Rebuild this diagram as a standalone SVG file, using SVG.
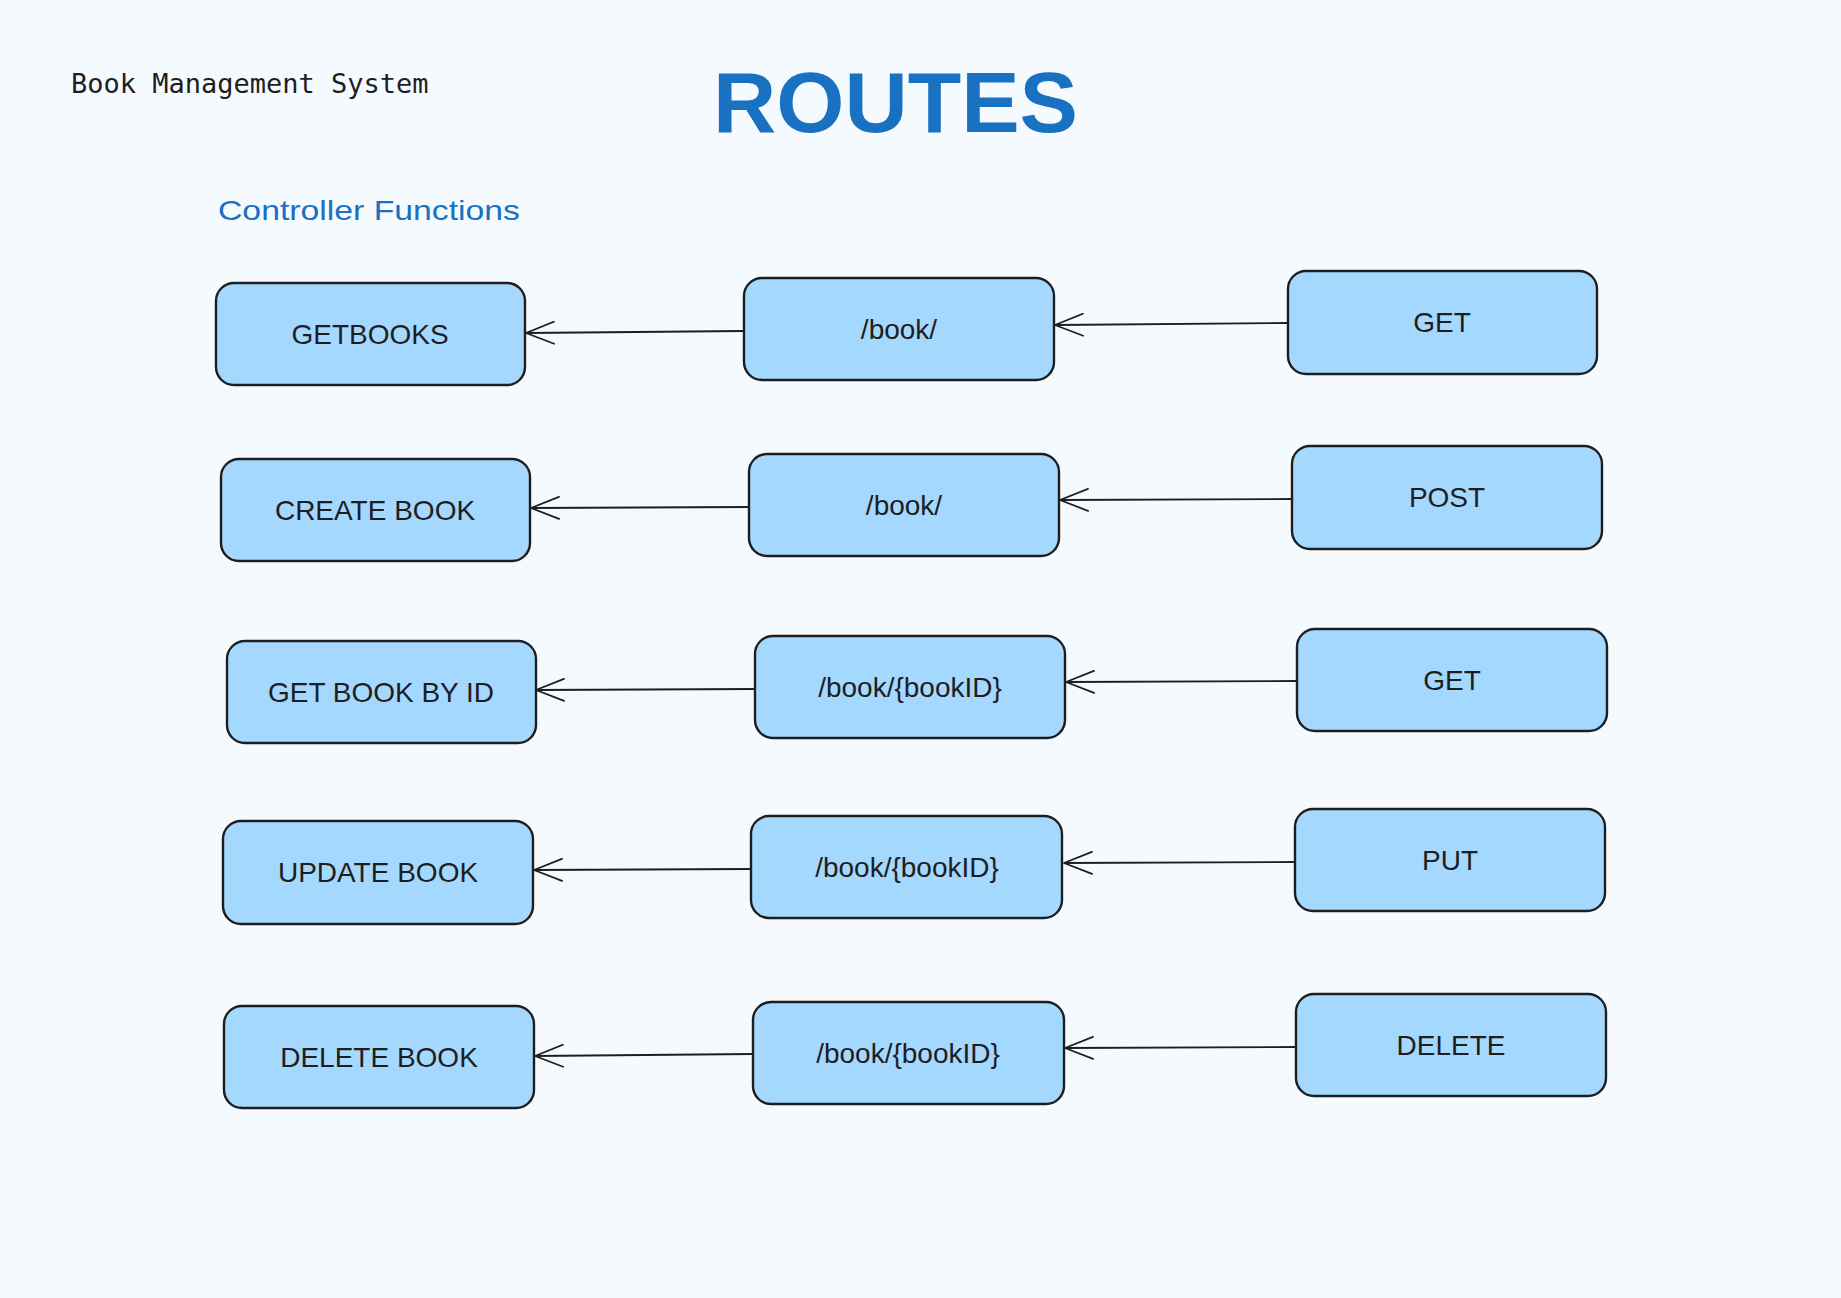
<svg xmlns="http://www.w3.org/2000/svg" width="1841" height="1298" viewBox="0 0 1841 1298">
<defs>
<style>
.box{fill:#a5d8ff;stroke:#1e1e1e;stroke-width:2.4}
.lbl{font-family:"Liberation Sans",Arial,sans-serif;font-size:28px;fill:#1e1e1e;text-anchor:middle}
.con{stroke:#1e1e1e;stroke-width:1.8;fill:none}
</style>
<marker id="ah" viewBox="0 0 30 24" refX="29" refY="12" markerWidth="30" markerHeight="24" markerUnits="userSpaceOnUse" orient="auto">
<path d="M1 1 L29 12 L1 23" fill="none" stroke="#1e1e1e" stroke-width="1.8" stroke-linecap="round" stroke-linejoin="round"/>
</marker>
</defs>
<rect width="1841" height="1298" fill="#f5faff"/>
<text x="71" y="93" font-family="'DejaVu Sans Mono','Liberation Mono',monospace" font-size="27" fill="#1e1e1e">Book Management System</text>
<text x="713" y="132" font-family="'Liberation Sans',Arial,sans-serif" font-weight="bold" font-size="86" fill="#1971c2" textLength="365" lengthAdjust="spacingAndGlyphs">ROUTES</text>
<text x="218" y="220" font-family="'Liberation Sans',Arial,sans-serif" font-size="28" fill="#1971c2" textLength="302" lengthAdjust="spacingAndGlyphs">Controller Functions</text>

<g id="n-getbooks"><rect class="box" x="216" y="283" width="309" height="102" rx="18"/><text class="lbl" x="370" y="344">GETBOOKS</text></g>
<g id="n-book1"><rect class="box" x="744" y="278" width="310" height="102" rx="18"/><text class="lbl" x="899" y="339">/book/</text></g>
<g id="n-get1"><rect class="box" x="1288" y="271" width="309" height="103" rx="18"/><text class="lbl" x="1442" y="332">GET</text></g>

<g id="n-createbook"><rect class="box" x="221" y="459" width="309" height="102" rx="18"/><text class="lbl" x="375" y="520">CREATE BOOK</text></g>
<g id="n-book2"><rect class="box" x="749" y="454" width="310" height="102" rx="18"/><text class="lbl" x="904" y="515">/book/</text></g>
<g id="n-post"><rect class="box" x="1292" y="446" width="310" height="103" rx="18"/><text class="lbl" x="1447" y="507">POST</text></g>

<g id="n-getbookbyid"><rect class="box" x="227" y="641" width="309" height="102" rx="18"/><text class="lbl" x="381" y="702">GET BOOK BY ID</text></g>
<g id="n-bookid1"><rect class="box" x="755" y="636" width="310" height="102" rx="18"/><text class="lbl" x="910" y="697">/book/{bookID}</text></g>
<g id="n-get2"><rect class="box" x="1297" y="629" width="310" height="102" rx="18"/><text class="lbl" x="1452" y="690">GET</text></g>

<g id="n-updatebook"><rect class="box" x="223" y="821" width="310" height="103" rx="18"/><text class="lbl" x="378" y="882">UPDATE BOOK</text></g>
<g id="n-bookid2"><rect class="box" x="751" y="816" width="311" height="102" rx="18"/><text class="lbl" x="907" y="877">/book/{bookID}</text></g>
<g id="n-put"><rect class="box" x="1295" y="809" width="310" height="102" rx="18"/><text class="lbl" x="1450" y="870">PUT</text></g>

<g id="n-deletebook"><rect class="box" x="224" y="1006" width="310" height="102" rx="18"/><text class="lbl" x="379" y="1067">DELETE BOOK</text></g>
<g id="n-bookid3"><rect class="box" x="753" y="1002" width="311" height="102" rx="18"/><text class="lbl" x="908" y="1063">/book/{bookID}</text></g>
<g id="n-delete"><rect class="box" x="1296" y="994" width="310" height="102" rx="18"/><text class="lbl" x="1451" y="1055">DELETE</text></g>

<g id="connectors">
<line class="con" x1="744" y1="331" x2="526" y2="333" marker-end="url(#ah)"/>
<line class="con" x1="1288" y1="323" x2="1055" y2="325" marker-end="url(#ah)"/>
<line class="con" x1="749" y1="507" x2="531" y2="508" marker-end="url(#ah)"/>
<line class="con" x1="1292" y1="499" x2="1060" y2="500" marker-end="url(#ah)"/>
<line class="con" x1="755" y1="689" x2="536" y2="690" marker-end="url(#ah)"/>
<line class="con" x1="1297" y1="681" x2="1066" y2="682" marker-end="url(#ah)"/>
<line class="con" x1="751" y1="869" x2="534" y2="870" marker-end="url(#ah)"/>
<line class="con" x1="1295" y1="862" x2="1064" y2="863" marker-end="url(#ah)"/>
<line class="con" x1="753" y1="1054" x2="535" y2="1056" marker-end="url(#ah)"/>
<line class="con" x1="1296" y1="1047" x2="1065" y2="1048" marker-end="url(#ah)"/>
</g>
</svg>
